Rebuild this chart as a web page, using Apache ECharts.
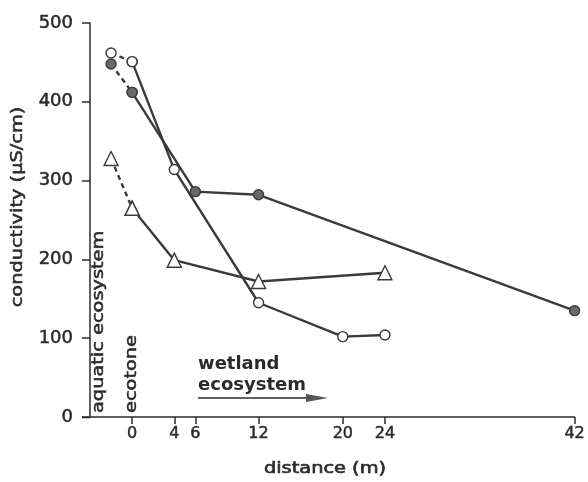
<!DOCTYPE html>
<html>
<head>
<meta charset="utf-8">
<script src="https://cdn.jsdelivr.net/npm/echarts@6/dist/echarts.min.js"></script>
<style>
  html, body { margin: 0; padding: 0; background: #fff; }
  #chart { width: 588px; height: 482px; }
</style>
</head>
<body>
<div id="chart"></div>
<script>
  // distance (m) -> conductivity (µS/cm), first point is the aquatic side (dashed)
  const openCircles = [[-2, 462], [0, 451], [4, 314], [12, 145], [20, 102], [24, 104]];
  const filledCircles = [[-2, 448], [0, 412], [6, 286], [12, 282], [42, 135]];
  const triangles = [[-2, 328], [0, 265], [4, 199], [12, 172], [24, 183]];
  const xTicks = [0, 4, 6, 12, 20, 24, 42];

  const font = '"DejaVu Sans", Arial, sans-serif';
  const ink = '#2b2b2b';
  const lineCol = '#3a3a3a';
  const wide = 1.29; // the lettering in the figure is set wide

  const myChart = echarts.init(document.getElementById('chart'));

  // one dashed piece (aquatic -> ecotone) plus one solid piece per group
  function group(data, symbol, size, fill) {
    const style = { color: fill, borderColor: lineCol, borderWidth: 1.4 };
    return [
      {
        type: 'line',
        data: data.slice(0, 2),
        symbol: symbol,
        symbolSize: size,
        showAllSymbol: true,
        itemStyle: style,
        lineStyle: { color: lineCol, width: 2.4, type: [5, 4] },
        animation: false,
        z: 2
      },
      {
        type: 'line',
        data: data.slice(1),
        symbol: symbol,
        symbolSize: size,
        showAllSymbol: true,
        itemStyle: style,
        lineStyle: { color: lineCol, width: 2.4 },
        animation: false,
        z: 3
      }
    ];
  }

  // text helper for the rotated / stretched labels
  function label(text, x, y, opts) {
    return Object.assign({
      type: 'text', x: x, y: y, scaleX: wide,
      style: {
        text: text, fill: ink, font: '15px ' + font,
        stroke: ink, lineWidth: 0.5,
        textAlign: 'left', textVerticalAlign: 'middle'
      }
    }, opts || {});
  }

  const option = {
    backgroundColor: '#fff',
    grid: { left: 90, right: 13, top: 23, bottom: 65 },
    xAxis: {
      type: 'value',
      min: -4,
      max: 42,
      splitLine: { show: false },
      axisLine: { lineStyle: { color: ink, width: 1.5 } },
      axisTick: { customValues: xTicks, length: 7, lineStyle: { color: ink, width: 1.5 } },
      axisLabel: {
        customValues: xTicks, color: ink, fontSize: 16, fontFamily: font, margin: 9,
        textBorderColor: ink, textBorderWidth: 0.5
      }
    },
    yAxis: {
      type: 'value',
      min: 0,
      max: 500,
      interval: 100,
      splitLine: { show: false },
      axisLine: { show: true, onZero: false, lineStyle: { color: ink, width: 1.5 } },
      axisTick: { show: true, length: 8, lineStyle: { color: ink, width: 1.5 } },
      axisLabel: {
        color: ink, fontSize: 18, fontFamily: font, margin: 17,
        textBorderColor: ink, textBorderWidth: 0.5
      }
    },
    series: [
      ...group(openCircles, 'circle', 10, '#fff'),
      ...group(filledCircles, 'circle', 10, '#6a6a6a'),
      ...group(triangles, 'triangle', 14, '#fff')
    ],
    graphic: [
      // x axis line runs a little past the y axis, like the tick marks
      {
        type: 'line', shape: { x1: 82, y1: 417.5, x2: 90, y2: 417.5 },
        style: { stroke: ink, lineWidth: 1.5 }
      },
      label('conductivity (µS/cm)', 18, 207, {
        rotation: Math.PI / 2,
        style: { text: 'conductivity (µS/cm)', fill: ink, font: '15px ' + font, stroke: ink, lineWidth: 0.5, textAlign: 'center', textVerticalAlign: 'middle' }
      }),
      label('distance (m)', 325, 469, {
        style: { text: 'distance (m)', fill: ink, font: '15px ' + font, stroke: ink, lineWidth: 0.6, textAlign: 'center', textVerticalAlign: 'middle' }
      }),
      label('aquatic ecosystem', 99, 413, { rotation: Math.PI / 2 }),
      label('ecotone', 132, 413, { rotation: Math.PI / 2 }),
      {
        type: 'text', x: 198, y: 364,
        style: { text: 'wetland', fill: ink, font: 'bold 18px ' + font, textAlign: 'left', textVerticalAlign: 'middle' }
      },
      {
        type: 'text', x: 198, y: 385,
        style: { text: 'ecosystem', fill: ink, font: 'bold 18px ' + font, textAlign: 'left', textVerticalAlign: 'middle' }
      },
      {
        type: 'line', shape: { x1: 198, y1: 398, x2: 312, y2: 398 },
        style: { stroke: ink, lineWidth: 1.5 }
      },
      {
        type: 'polygon', shape: { points: [[306, 394], [328, 398], [306, 402]] },
        style: { fill: '#555' }
      }
    ]
  };

  myChart.setOption(option);
</script>
</body>
</html>
